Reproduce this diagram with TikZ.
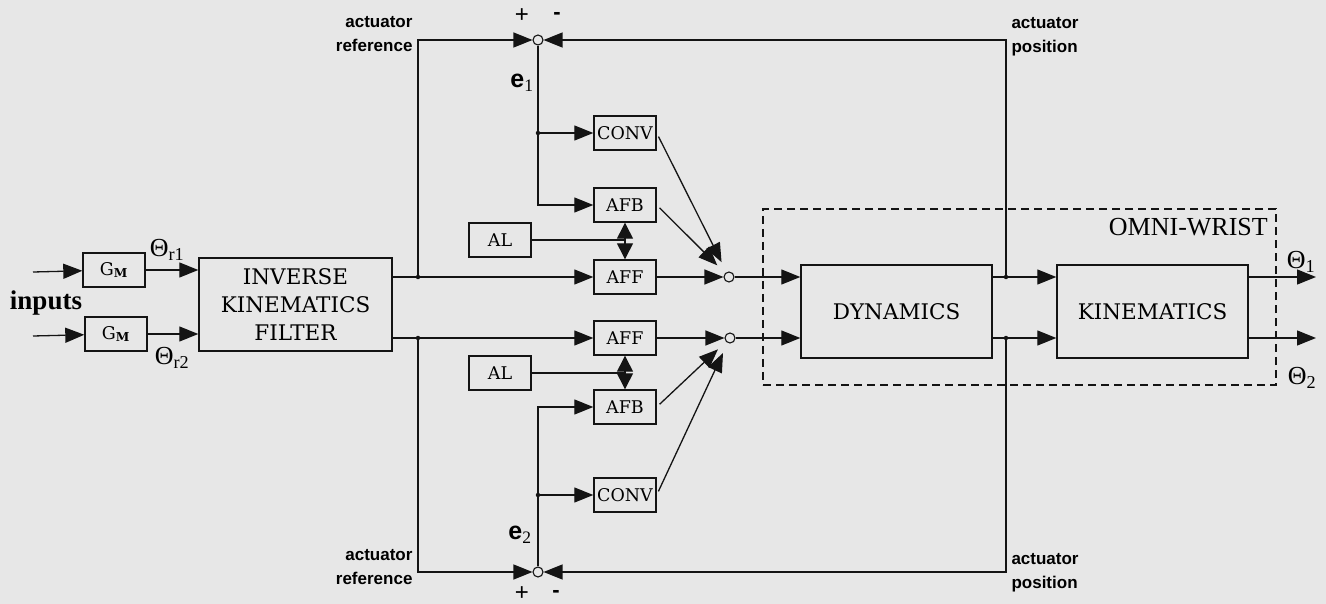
\documentclass[tikz,border=0pt]{standalone}
\usepackage{fontspec}
\setmainfont{Liberation Serif}
\setsansfont{Liberation Sans}
\newfontfamily\blockfont{DejaVu Serif}
\usetikzlibrary{arrows.meta,positioning,calc}
\definecolor{papergray}{RGB}{231,231,231}
\definecolor{inkblack}{RGB}{20,20,20}

\tikzset{
  blk/.style={draw=inkblack, line width=1.4pt, minimum width=62, minimum height=34, inner sep=0pt,
    font=\blockfont\fontsize{17.5}{20}\selectfont},
  bigblk/.style={blk, minimum width=193, minimum height=93, align=center,
    font=\blockfont\fontsize{21.5}{28}\selectfont},
  sumpt/.style={circle, draw=inkblack, line width=1.1pt, fill=papergray, inner sep=0pt, minimum size=10},
  jdot/.style={circle, fill=inkblack, inner sep=0pt, minimum size=4.5},
  sig/.style={draw=inkblack, line width=1.3pt},
  arr/.style={sig, -{Triangle[length=19pt,width=15pt]}},
  darr/.style={sig, {Triangle[length=16pt,width=16pt]}-{Triangle[length=16pt,width=16pt]}},
  sidelbl/.style={font=\sffamily\bfseries\fontsize{17}{24}\selectfont},
  sgnlbl/.style={font=\sffamily\fontsize{24}{24}\selectfont},
  varlbl/.style={font=\fontsize{26}{26}\selectfont}
}

\begin{document}
\begin{tikzpicture}[x=1pt, y=-1pt]
  \fill[papergray] (0,0) rectangle (1326,604);
  \useasboundingbox (0,0) rectangle (1326,604);

  \node[blk] (gm1) at (114,270) {G\textsubscript{\textbf{M}}};
  \node[blk] (gm2) at (116,334) {G\textsubscript{\textbf{M}}};
  \node[bigblk] (ikf) at (295.5,304.5) {INVERSE\\KINEMATICS\\FILTER};

  \node[blk] (conv1) at (625,133) {CONV};
  \node[blk] (afb1) at (625,205) {AFB};
  \node[blk] (al1) at (500,240) {AL};
  \node[blk] (aff1) at (625,277) {AFF};
  \node[blk] (aff2) at (625,338) {AFF};
  \node[blk] (al2) at (500,373) {AL};
  \node[blk] (afb2) at (625,407) {AFB};
  \node[blk] (conv2) at (625,495) {CONV};

  \node[sumpt] (err1) at (538,40) {};
  \node[sumpt] (err2) at (538,572) {};
  \node[sumpt] (mix1) at (729,277) {};
  \node[sumpt] (mix2) at (730,338) {};

  \node[draw=inkblack, line width=1.2pt, dash pattern=on 8pt off 5pt, minimum width=513,
    minimum height=176, inner sep=0pt] (wrist) at (1019.5,297) {};
  \node[anchor=north east, inner sep=0pt, font=\fontsize{26}{26}\selectfont] (wristlbl) at (1268,218) {OMNI-WRIST};
  \node[bigblk, minimum width=191] (dyn) at (896.5,311.5) {DYNAMICS};
  \node[bigblk, minimum width=191] (kin) at (1152.5,311.5) {KINEMATICS};

  \node[jdot] (ik1) at (418,277) {};
  \node[jdot] (ik2) at (418,338) {};
  \node[jdot] (fb1) at (1006,277) {};
  \node[jdot] (fb2) at (1006,338) {};
  \node[jdot] (e1dot) at (538,133) {};
  \node[jdot] (e2dot) at (538,495) {};

  \coordinate (in1) at (33,272);
  \coordinate (in2) at (33,336);
  \coordinate (th1) at (1316,277);
  \coordinate (th2) at (1316,338);

  \draw[arr] (in1) -- (gm1);
  \draw[arr] (in2) -- (gm2);
  \draw[arr] (gm1) -- (gm1 -| ikf.west);
  \draw[arr] (gm2) -- (gm2 -| ikf.west);
  \draw[sig] (ikf.east |- ik1) -- (ik1);
  \draw[sig] (ikf.east |- ik2) -- (ik2);
  \draw[arr] (ik1) -- (aff1);
  \draw[arr] (ik2) -- (aff2);
  \draw[arr] (ik1) |- (err1);
  \draw[arr] (ik2) |- (err2);
  \draw[arr] (fb1) |- (err1);
  \draw[arr] (fb2) |- (err2);
  \draw[arr] (err1) |- (afb1);
  \draw[arr] (err2) |- (afb2);
  \draw[arr] (e1dot) -- (conv1);
  \draw[arr] (e2dot) -- (conv2);
  \draw[sig] (al1) -- (al1 -| afb1);
  \draw[sig] (al2) -- (al2 -| afb2);
  \draw[darr] (afb1) -- (aff1);
  \draw[darr] (aff2) -- (afb2);

  \draw[arr] (aff1) -- (mix1);
  \draw[arr] (aff2) -- (mix2);
  \draw[arr, shorten <=4pt, shorten >=11pt] (conv1.east) -- (mix1);
  \draw[arr, shorten <=4pt, shorten >=11pt] (afb1.east) -- (mix1);
  \draw[arr, shorten <=4pt, shorten >=11pt] (afb2.east) -- (mix2);
  \draw[arr, shorten <=4pt, shorten >=11pt] (conv2.east) -- (mix2);

  \draw[arr] (mix1) -- (mix1 -| dyn.west);
  \draw[arr] (mix2) -- (mix2 -| dyn.west);
  \draw[sig] (dyn.east |- fb1) -- (fb1);
  \draw[sig] (dyn.east |- fb2) -- (fb2);
  \draw[arr] (fb1) -- (fb1 -| kin.west);
  \draw[arr] (fb2) -- (fb2 -| kin.west);
  \draw[arr] (kin.east |- th1) -- (th1);
  \draw[arr] (kin.east |- th2) -- (th2);

  \node[font=\bfseries\fontsize{27}{27}\selectfont] (inlbl) at (46,303) {inputs};
  \node[varlbl] (thr1) at (167,250) {Θ\textsubscript{r1}};
  \node[varlbl] (thr2) at (172,358) {Θ\textsubscript{r2}};
  \node[varlbl] (tho1) at (1301,262) {Θ\textsubscript{1}};
  \node[varlbl] (tho2) at (1302,378) {Θ\textsubscript{2}};
  \node[font=\fontsize{25}{25}\selectfont] (e1lbl) at (522,83) {{\sffamily\bfseries e}\textsubscript{1}};
  \node[font=\fontsize{25}{25}\selectfont] (e2lbl) at (520,535) {{\sffamily\bfseries e}\textsubscript{2}};
  \node[sgnlbl] (plus1) at (522,16) {+};
  \node[sgnlbl, font=\sffamily\bfseries\fontsize{22}{22}\selectfont] (minus1) at (557,16) {-};
  \node[sgnlbl] (plus2) at (522,594) {+};
  \node[sgnlbl, font=\sffamily\bfseries\fontsize{22}{22}\selectfont] (minus2) at (556,594) {-};
  \node[sidelbl, anchor=east, align=right] (ref1) at (416,34) {actuator\\reference};
  \node[sidelbl, anchor=east, align=right] (ref2) at (416,567) {actuator\\reference};
  \node[sidelbl, anchor=west, align=left] (pos1) at (1008,37) {actuator\\position};
  \node[sidelbl, anchor=west, align=left] (pos2) at (1008,573) {actuator\\position};
\end{tikzpicture}
\end{document}
